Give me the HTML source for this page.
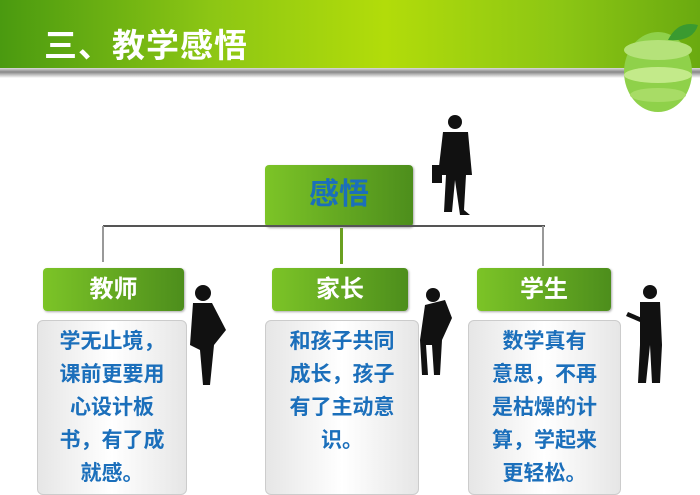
<!DOCTYPE html>
<html><head><meta charset="utf-8"><style>
body{margin:0;width:700px;height:493px;overflow:hidden;background:#fff;position:relative;font-family:"Liberation Sans","Noto Sans CJK SC",sans-serif}
.hdr{position:absolute;left:0;top:0;width:700px;height:68px;background:linear-gradient(90deg,#4a9a10 0%,#8cc614 30%,#b2dc0a 55%,#8cc614 80%,#6aaa10 100%)}
.shadow{position:absolute;left:0;top:68px;width:700px;height:10px;background:linear-gradient(#dcdcdc,#888 40%,#fff)}
.title{position:absolute;left:44px;top:26px;color:#fff;font-size:33px;line-height:40px;font-weight:bold;letter-spacing:1px}
.g{position:absolute;background:linear-gradient(90deg,#7cc427,#4d8e1c);border-radius:4px;color:#fff;font-weight:bold;text-align:center;box-shadow:1px 1px 2px #aaa}
.c{position:absolute;border:1px solid #ccc;border-radius:6px;background:linear-gradient(90deg,#e6e6e6,#fff 50%,#e6e6e6);color:#1b6fbb;font-weight:bold;font-size:21px;line-height:33px;text-align:center;padding-top:4px;box-sizing:border-box}
.l{position:absolute;background:#555}
</style></head><body>
<div class="hdr"></div><div class="shadow"></div>
<div class="title">三、教学感悟</div>
<svg style="position:absolute;left:618px;top:20px" width="82" height="95">
<ellipse cx="40" cy="52" rx="34" ry="40" fill="#8fd14a"/>
<ellipse cx="40" cy="30" rx="34" ry="10" fill="#b5e27a"/>
<ellipse cx="40" cy="55" rx="34" ry="8" fill="#c3ea8a"/>
<ellipse cx="40" cy="75" rx="28" ry="7" fill="#a8dc66"/>
<path d="M50 20 Q60 0 80 5 Q75 22 50 20Z" fill="#3a9a30"/>
</svg>
<div class="g" style="left:265px;top:165px;width:148px;height:62px;line-height:60px;font-size:30px;color:#1b6fbb">感悟</div>
<div class="l" style="left:103px;top:225px;width:442px;height:2px"></div>
<div class="l" style="left:102px;top:226px;width:2px;height:36px;background:#999"></div>
<div class="l" style="left:340px;top:228px;width:3px;height:36px;background:#6aa020"></div>
<div class="l" style="left:542px;top:226px;width:2px;height:40px;background:#999"></div>
<div class="g" style="left:43px;top:268px;width:141px;height:43px;line-height:43px;font-size:24px">教师</div>
<div class="g" style="left:272px;top:268px;width:136px;height:43px;line-height:43px;font-size:24px">家长</div>
<div class="g" style="left:477px;top:268px;width:134px;height:43px;line-height:43px;font-size:24px">学生</div>
<div class="c" style="left:37px;top:320px;width:150px;height:175px">学无止境，<br>课前更要用<br>心设计板<br>书，有了成<br>就感。</div>
<div class="c" style="left:265px;top:320px;width:154px;height:175px">和孩子共同<br>成长，孩子<br>有了主动意<br>识。</div>
<div class="c" style="left:468px;top:320px;width:153px;height:175px">数学真有<br>意思，不再<br>是枯燥的计<br>算，学起来<br>更轻松。</div>
<svg style="position:absolute;left:0;top:0" width="700" height="493">
<g fill="#111">
<circle cx="455" cy="122" r="7"/><path d="M443 132 L468 132 L472 175 L466 175 L464 210 L470 215 L460 215 L455 180 L452 212 L444 212 L446 175 L438 175Z"/><rect x="432" y="165" width="10" height="18"/>
<circle cx="203" cy="293" r="8"/><path d="M193 303 L212 303 L226 330 L214 345 L210 385 L203 385 L200 350 L190 345 Z"/>
<circle cx="433" cy="295" r="7"/><path d="M425 305 L445 300 L452 318 L442 340 L440 375 L434 375 L432 345 L426 345 L428 375 L422 375 L420 340 Z"/>
<circle cx="650" cy="292" r="7"/><path d="M640 302 L660 302 L662 345 L660 383 L652 383 L650 345 L646 383 L638 383 L640 345 Z"/><path d="M628 312 L642 318 L640 322 L626 316Z"/>
</g></svg>
</body></html>
